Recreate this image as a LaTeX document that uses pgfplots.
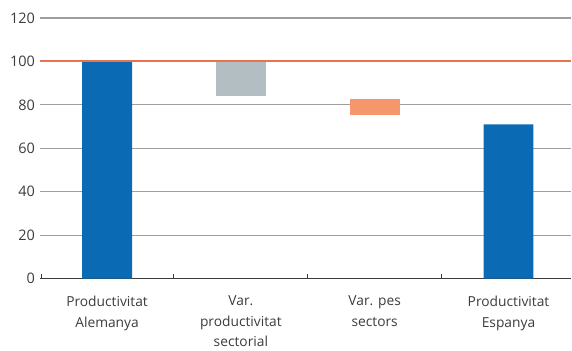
\documentclass[border=0pt]{standalone}
\usepackage{pgfplots}
\pgfplotsset{compat=1.18}
\usepackage{fontspec}
\setmainfont{Open Sans}
\definecolor{cblue}{HTML}{0A6BB4}
\definecolor{cgray}{HTML}{B2BEC2}
\definecolor{corange}{HTML}{F4976C}
\definecolor{cred}{HTML}{E8734F}
\definecolor{cgrid}{HTML}{9E9E9E}
\definecolor{ctext}{HTML}{3C3C3C}
\begin{document}
\begin{tikzpicture}
\pgfplotsset{
  common/.style={
    scale only axis,
    width=532pt, height=279pt,
    xmin=-0.5, xmax=3.47,
    ymin=0, ymax=128.3,
  }
}
\begin{axis}[
  common,
  ybar stacked,
  bar width=50pt,
  axis x line=bottom,
  axis y line=left,
  y axis line style={draw=none},
  x axis line style={color=ctext, line width=1.2pt, -},
  ytick={0,20,40,60,80,100,120},
  ymajorgrids,
  major grid style={color=cgrid, line width=1.2pt},
  major y tick style={draw=none},
  major tick length=0pt,
  xtick={0,1,2,3},
  xticklabels={{Productivitat\\Alemanya},{Var.\\productivitat\\sectorial},{Var. pes\\sectors},{Productivitat\\Espanya}},
  major x tick style={draw=none},
  minor xtick={-0.49,0.5,1.5,2.5},
  minor x tick style={color=ctext, line width=1pt},
  minor tick length=5pt,
  tick align=inside,
  xticklabel style={align=center, font=\fontsize{13.8}{20.5}\selectfont, text=ctext, anchor=north, yshift=-14pt},
  yticklabel style={font=\fontsize{14.5}{16}\selectfont, text=ctext, inner sep=0pt, anchor=east, xshift=-5pt, text width=35pt, align=right},
  /pgf/number format/assume math mode=true,
]
\addplot[draw=none, fill=none] coordinates {(0,0) (1,84) (2,75.3) (3,0)};
\addplot[draw=none, fill=cblue] coordinates {(0,100) (1,0) (2,0) (3,71)};
\addplot[draw=none, fill=cgray] coordinates {(0,0) (1,16) (2,0) (3,0)};
\addplot[draw=none, fill=corange] coordinates {(0,0) (1,0) (2,7.3) (3,0)};
\end{axis}
\begin{axis}[common, hide axis]
\addplot[cred, line width=2pt] coordinates {(-0.5,100) (3.47,100)};
\end{axis}
\end{tikzpicture}
\end{document}
